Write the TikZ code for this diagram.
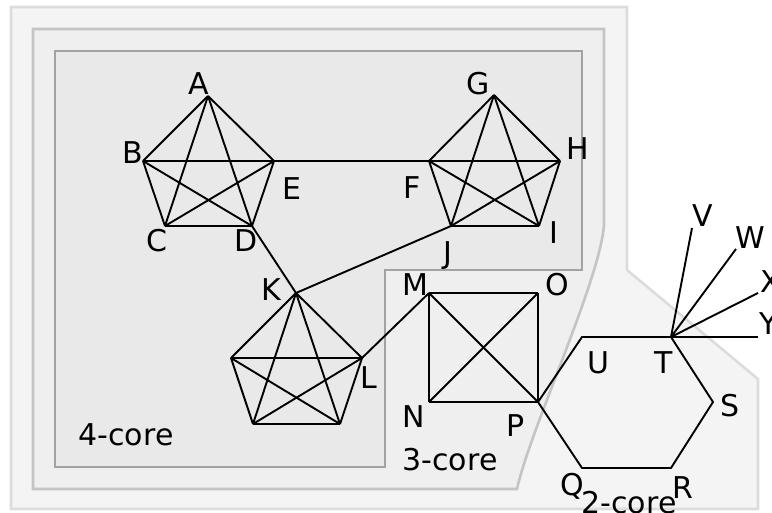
\documentclass[tikz,border=0pt]{standalone}
\usepackage{fontspec}
\setmainfont{DejaVu Sans}
\begin{document}
\begin{tikzpicture}[x=1pt,y=-1pt,
  edge/.style={line width=1.9pt, black, line join=round},
  lbl/.style={inner sep=0pt, font=\fontsize{30}{36}\selectfont},
  region/.style={line width=2.6pt}]
\useasboundingbox (0,0) rectangle (772,512);
\clip (0,0) rectangle (772,512);
\definecolor{outerfill}{HTML}{F4F4F4}
\definecolor{outerline}{HTML}{DCDCDC}
\definecolor{midfill}{HTML}{EFEFEF}
\definecolor{midline}{HTML}{C4C4C4}
\definecolor{innerfill}{HTML}{E9E9E9}
\definecolor{innerline}{HTML}{A2A2A2}
% regions
\draw[region, fill=outerfill, draw=outerline] (11,7) -- (627,7) -- (627,270) -- (758,379) -- (758,509) -- (11,509) -- cycle;
\draw[region, fill=midfill, draw=midline] (33,29) -- (604,29) -- (604,225) .. controls (600,280) and (530,430) .. (517,489) -- (33,489) -- cycle;
\draw[region, fill=innerfill, draw=innerline] (55,51) -- (582,51) -- (582,270) -- (385,270) -- (385,467) -- (55,467) -- cycle;
% vertices
\coordinate (A) at (208,96);
\coordinate (B) at (143,161);
\coordinate (E) at (274,161);
\coordinate (C) at (165,226);
\coordinate (D) at (252,226);
\coordinate (G) at (494,95);
\coordinate (F) at (429,161);
\coordinate (H) at (560,161);
\coordinate (J) at (451,226);
\coordinate (I) at (539,226);
\coordinate (K) at (296,293);
\coordinate (K2) at (231,358);
\coordinate (L) at (362,358);
\coordinate (K3) at (253,424);
\coordinate (K4) at (340,424);
\coordinate (M) at (429,293);
\coordinate (O) at (538,293);
\coordinate (N) at (429,402);
\coordinate (P) at (538,402);
\coordinate (U) at (582,337);
\coordinate (T) at (671,337);
\coordinate (S) at (713,402);
\coordinate (R) at (671,468);
\coordinate (Q) at (582,468);
\coordinate (V) at (692,228);
\coordinate (W) at (736,249);
\coordinate (X) at (758,293);
\coordinate (Y) at (758,337);
% K5 cliques
\foreach \a/\b in {A/B,A/C,A/D,A/E,B/C,B/D,B/E,C/D,C/E,D/E,
  G/F,G/H,G/I,G/J,F/H,F/I,F/J,H/I,H/J,I/J,
  K/K2,K/L,K/K3,K/K4,K2/L,K2/K3,K2/K4,L/K3,L/K4,K3/K4}
  \draw[edge] (\a) -- (\b);
% square
\foreach \a/\b in {M/O,O/P,P/N,N/M,M/P,N/O}
  \draw[edge] (\a) -- (\b);
% hexagon
\draw[edge] (P) -- (U) -- (T) -- (S) -- (R) -- (Q) -- cycle;
% bridges
\draw[edge] (E) -- (F);
\draw[edge] (D) -- (K);
\draw[edge] (J) -- (K);
\draw[edge] (L) -- (M);
\foreach \z in {V,W,X,Y} \draw[edge] (T) -- (\z);
% labels
\node[lbl] (lA) at (199,84) {A};
\node[lbl] (lB) at (133,153) {B};
\node[lbl] (lE) at (292,189) {E};
\node[lbl] (lC) at (157,241) {C};
\node[lbl] (lD) at (246,241) {D};
\node[lbl] (lG) at (478,84) {G};
\node[lbl] (lH) at (578,149) {H};
\node[lbl] (lF) at (412,188) {F};
\node[lbl] (lI) at (554,233) {I};
\node[lbl] (lJ) at (448,256) {J};
\node[lbl] (lK) at (271,290) {K};
\node[lbl] (lL) at (369,378) {L};
\node[lbl] (lM) at (415,285) {M};
\node[lbl] (lO) at (557,285) {O};
\node[lbl] (lN) at (414,417) {N};
\node[lbl] (lP) at (516,426) {P};
\node[lbl] (lU) at (598,363) {U};
\node[lbl] (lT) at (664,363) {T};
\node[lbl] (lS) at (730,406) {S};
\node[lbl] (lQ) at (572,486) {Q};
\node[lbl] (lR) at (683,488) {R};
\node[lbl] (lV) at (703,216) {V};
\node[lbl] (lW) at (750,238) {W};
\node[lbl, anchor=west] (lX) at (760,282) {X};
\node[lbl, anchor=west] (lY) at (759,324) {Y};
\node[lbl] (c4) at (126,435) {4-core};
\node[lbl] (c3) at (450,460) {3-core};
\node[lbl] (c2) at (629,503) {2-core};
\end{tikzpicture}
\end{document}
